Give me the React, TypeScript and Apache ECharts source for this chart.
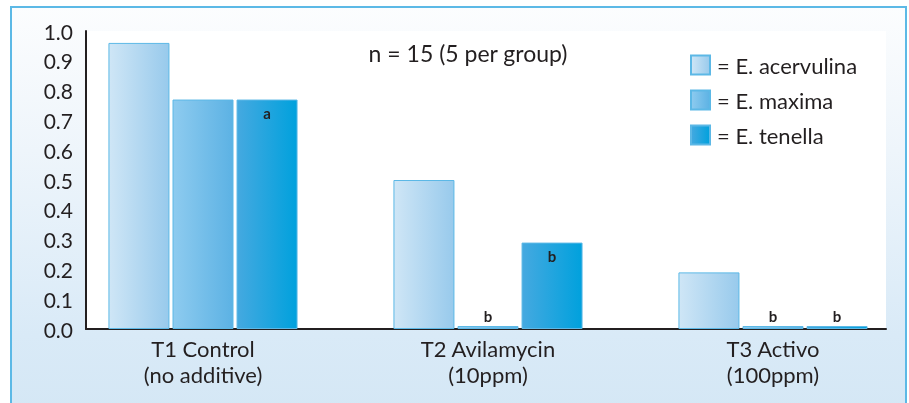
import React, { useEffect, useRef } from "react";
import * as echarts from "echarts";

const categories = ["T1 Control\n(no additive)", "T2 Avilamycin\n(10ppm)", "T3 Activo\n(100ppm)"];
const seriesNames = ["E. acervulina", "E. maxima", "E. tenella"];
const acervulina = [0.96, 0.5, 0.19];
const maxima = [0.77, 0.01, 0.01];
const tenella = [0.77, 0.29, 0.01];
const acervulinaSig = ["", "", ""];
const maximaSig = ["", "b", "b"];
const tenellaSig = ["a", "b", "b"];
const yTicks = [0, 0.1, 0.2, 0.3, 0.4, 0.5, 0.6, 0.7, 0.8, 0.9, 1.0];
const note = "n = 15 (5 per group)";

const FONT = "Lato, 'Open Sans', sans-serif";
const TEXT = "#231f20";

const grad = (a: string, b: string) =>
  new echarts.graphic.LinearGradient(0, 0, 1, 0, [
    { offset: 0, color: a },
    { offset: 1, color: b },
  ]);

export default function App() {
  const ref = useRef<HTMLDivElement>(null);
  useEffect(() => {
    if (!ref.current) return;
    const chart = echarts.init(ref.current, undefined, { renderer: "svg" });
    const fills = [
      grad("#cfe6f6", "#98caec"),
      grad("#8ecbef", "#5cb2e4"),
      grad("#45a9e0", "#00a1dd"),
    ];
    const values = [acervulina, maxima, tenella];
    const sigs = [acervulinaSig, maximaSig, tenellaSig];
    const series = seriesNames.map((name, i) => ({
      name,
      type: "bar",
      xAxisIndex: 1,
      yAxisIndex: 1,
      barWidth: 61,
      barGap: "5%",
      clip: false,
      itemStyle: { color: fills[i], borderColor: "#5cb8e6", borderWidth: 1 },
      data: values[i].map((v, j) => ({
        value: v,
        label: {
          show: sigs[i][j] !== "",
          formatter: sigs[i][j],
          position: v > 0.1 ? "insideTop" : "top",
          distance: v > 0.1 ? 6 : 3,
          fontFamily: FONT,
          fontWeight: "bold",
          fontSize: 15,
          color: TEXT,
        },
      })),
    }));
    chart.setOption({
      animation: false,
      graphic: [
        {
          type: "rect",
          z: -100,
          shape: { x: 11, y: 7, width: 895, height: 410 },
          style: {
            fill: new echarts.graphic.LinearGradient(0, 0, 0, 1, [
              { offset: 0, color: "#fcfdfe" },
              { offset: 0.35, color: "#eef5fb" },
              { offset: 0.8, color: "#d9eaf7" },
              { offset: 1, color: "#d4e7f5" },
            ]),
            stroke: "#5cb9e6",
            lineWidth: 2,
          },
        },
        {
          type: "text",
          z: 10,
          x: 468,
          y: 53,
          style: {
            text: note,
            fontFamily: FONT,
            fontSize: 23,
            fill: TEXT,
            align: "center",
            verticalAlign: "middle",
          },
        },
      ],
      grid: [
        {
          left: 86,
          right: 23,
          top: 31,
          bottom: 74,
          show: true,
          backgroundColor: "#ffffff",
          borderWidth: 0,
        },
        { left: 203, right: 136, top: 31, bottom: 74 },
      ],
      legend: {
        orient: "vertical",
        left: 690,
        top: 54,
        padding: 0,
        icon: "rect",
        itemWidth: 19,
        itemHeight: 19,
        itemGap: 13,
        data: seriesNames,
        formatter: (n: string) => "= " + n,
        textStyle: {
          fontFamily: FONT,
          fontSize: 22,
          lineHeight: 19,
          color: TEXT,
          padding: [0, 0, 0, 2],
        },
      },
      xAxis: [
        {
          gridIndex: 0,
          type: "value",
          min: 0,
          max: 1,
          axisLine: { show: true, onZero: false, lineStyle: { color: TEXT, width: 2 } },
          axisTick: { show: false },
          axisLabel: { show: false },
          splitLine: { show: false },
        },
        {
          gridIndex: 1,
          type: "category",
          boundaryGap: false,
          data: categories,
          axisLine: { show: false },
          axisTick: { show: false },
          axisLabel: {
            margin: 6,
            fontFamily: FONT,
            fontSize: 22,
            lineHeight: 26,
            color: TEXT,
          },
        },
      ],
      yAxis: [
        {
          gridIndex: 0,
          type: "value",
          min: yTicks[0],
          max: yTicks[yTicks.length - 1],
          interval: 0.1,
          axisLine: { show: true, lineStyle: { color: TEXT, width: 2 } },
          axisTick: { show: false },
          splitLine: { show: false },
          axisLabel: {
            margin: 13,
            fontFamily: FONT,
            fontSize: 21,
            color: TEXT,
            formatter: (v: number) => v.toFixed(1),
          },
        },
        {
          gridIndex: 1,
          type: "value",
          min: 0,
          max: 1,
          show: false,
        },
      ],
      series,
    });
    return () => chart.dispose();
  }, []);
  return (
    <div
      ref={ref}
      style={{ position: "fixed", left: 0, top: 0, width: 909, height: 403 }}
    />
  );
}
